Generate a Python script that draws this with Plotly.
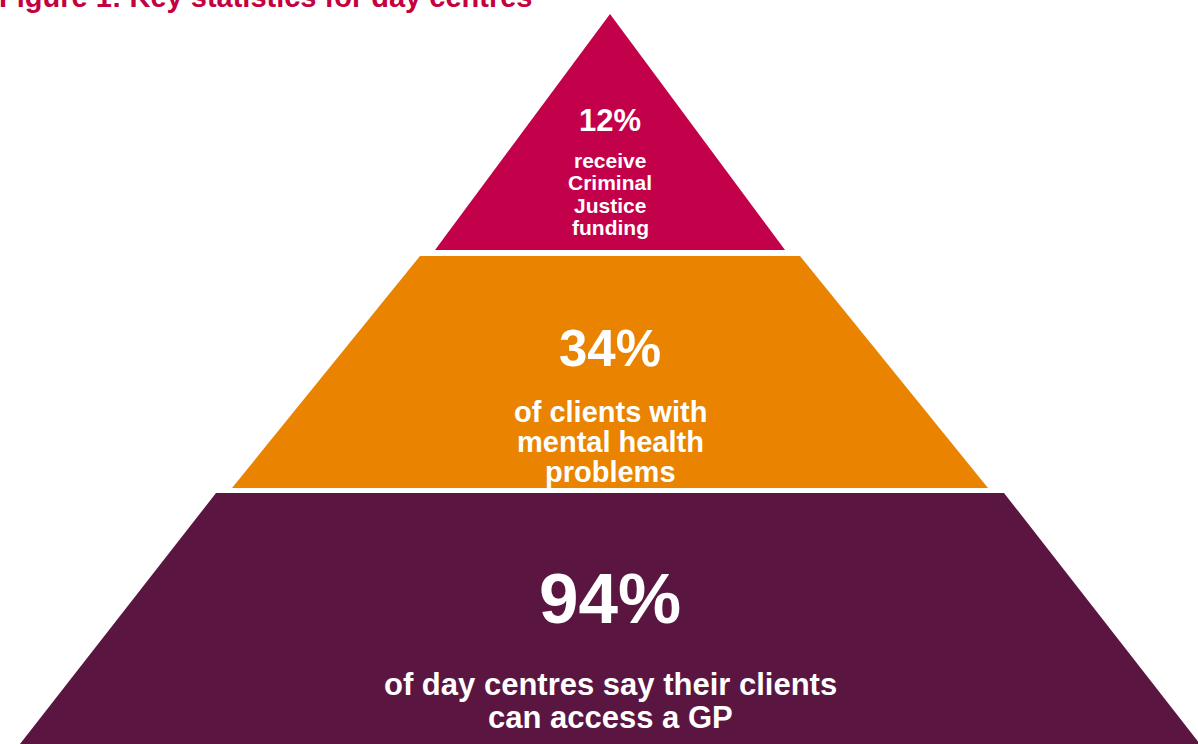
import plotly.graph_objects as go

# ---- data ----
stats = ["12%", "34%", "94%"]
descriptions = [
    "receive<br>Criminal<br>Justice<br>funding",
    "of clients with<br>mental health<br>problems",
    "of day centres say their clients<br>can access a GP",
]
colors = ["#C3004A", "#EA8400", "#5B1541"]
title_text = "Figure 1: Key statistics for day centres"

# ---- geometry (pixel canvas) ----
W, H = 1198, 744
apex = (610, 14)
# each band: (top_y, top_half_width, bottom_y, bottom_half_width)
bands = [
    (14, 0, 250, 175),
    (256, 190, 488, 378),
    (493, 394, 744, 590),
]
stat_y = [120, 348, 598]
stat_size = [31, 51, 71]
desc_y = [194, 442, 701]
desc_size = [21, 29, 31]
desc_spacing = [22.5, 30, 33]
FONT = "Liberation Sans, Arial, sans-serif"

fig = go.Figure()
cx = apex[0]
for i, (ty, tw, by, bw) in enumerate(bands):
    xs = [cx - tw, cx + tw, cx + bw, cx - bw, cx - tw]
    ys = [ty, ty, by, by, ty]
    fig.add_trace(go.Scatter(x=xs, y=ys, fill="toself", mode="lines",
                             line=dict(width=0, color=colors[i]),
                             fillcolor=colors[i], hoverinfo="skip",
                             showlegend=False))
    fig.add_annotation(x=cx, y=stat_y[i], text="<b>" + stats[i] + "</b>",
                       showarrow=False, xanchor="center", yanchor="middle",
                       font=dict(family=FONT, size=stat_size[i], color="white"))
    lines = descriptions[i].split("<br>")
    n = len(lines)
    for j, ln in enumerate(lines):
        yy = desc_y[i] + (j - (n - 1) / 2) * desc_spacing[i]
        fig.add_annotation(x=cx, y=yy, text="<b>" + ln + "</b>",
                           showarrow=False, xanchor="center", yanchor="middle",
                           font=dict(family=FONT, size=desc_size[i], color="white"))

fig.add_annotation(x=0, y=1 + 3 / H, xref="paper", yref="paper",
                   text="<b>" + title_text + "</b>", showarrow=False,
                   xanchor="left", yanchor="middle", xshift=-3,
                   font=dict(family=FONT, size=29, color="#C4003F"))

fig.update_layout(
    width=W, height=H,
    margin=dict(l=0, r=0, t=0, b=0),
    paper_bgcolor="white", plot_bgcolor="white",
    xaxis=dict(range=[0, W], visible=False, fixedrange=True),
    yaxis=dict(range=[H, 0], visible=False, fixedrange=True),
)
fig.write_html("out.html", config={"displayModeBar": False},
               post_script="document.body.style.margin='0';document.body.style.overflow='hidden';")
